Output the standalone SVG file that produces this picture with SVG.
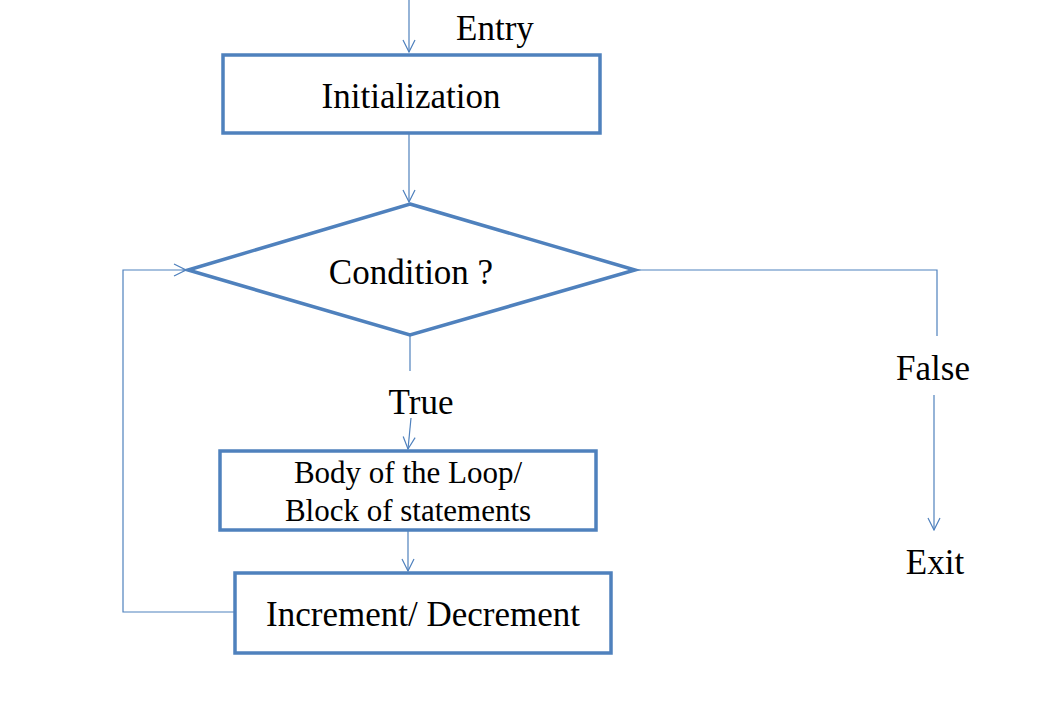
<svg xmlns="http://www.w3.org/2000/svg" width="1040" height="707" viewBox="0 0 1040 707">
<style>
.box{fill:#fff;stroke:#4F81BD;stroke-width:3.5}
.con{fill:none;stroke:#4F81BD;stroke-width:1.2}
.t{fill:#000;text-anchor:middle}
.big{font-size:35px}
.mid{font-size:31px}
</style>
<defs>
<marker id="arr" viewBox="-13 -7 14 14" refX="0" refY="0" markerWidth="14" markerHeight="14" markerUnits="userSpaceOnUse" orient="auto">
<path d="M-12,-6 L0,0 L-12,6" fill="none" stroke="#4F81BD" stroke-width="1.2"/>
</marker>
</defs>
<rect width="1040" height="707" fill="#fff"/>
<g id="connectors">
<line class="con" x1="409" y1="0" x2="409" y2="52" marker-end="url(#arr)"/>
<line class="con" x1="409" y1="134" x2="409" y2="202" marker-end="url(#arr)"/>
<line class="con" x1="410" y1="336" x2="410" y2="371"/>
<line class="con" x1="411" y1="418" x2="408" y2="449" marker-end="url(#arr)"/>
<line class="con" x1="408" y1="531" x2="408" y2="571" marker-end="url(#arr)"/>
<polyline class="con" points="235,612 123,612 123,270 186,270" marker-end="url(#arr)"/>
<polyline class="con" points="635,270 937,270 937,336"/>
<line class="con" x1="934" y1="395" x2="934" y2="530" marker-end="url(#arr)"/>
</g>
<g font-family="'Liberation Serif', 'Times New Roman', serif">
<text class="t big" x="495" y="40">Entry</text>
<g id="init">
<rect class="box" x="223" y="55" width="377" height="78"/>
<text class="t big" x="411" y="108">Initialization</text>
</g>
<g id="condition">
<polygon class="box" points="410,204 635,270 410,335 188,270"/>
<text class="t big" x="411" y="284">Condition ?</text>
</g>
<text class="t big" x="421" y="414">True</text>
<text class="t big" x="933" y="380">False</text>
<g id="body">
<rect class="box" x="220" y="451" width="376" height="79"/>
<text class="t mid" x="408" y="483">Body of the Loop/</text>
<text class="t mid" x="408" y="521">Block of statements</text>
</g>
<g id="increment">
<rect class="box" x="235" y="573" width="376" height="80"/>
<text class="t big" x="423" y="626">Increment/ Decrement</text>
</g>
<g id="exit">
<text class="t big" x="935" y="574">Exit</text>
</g>
</g>
</svg>
